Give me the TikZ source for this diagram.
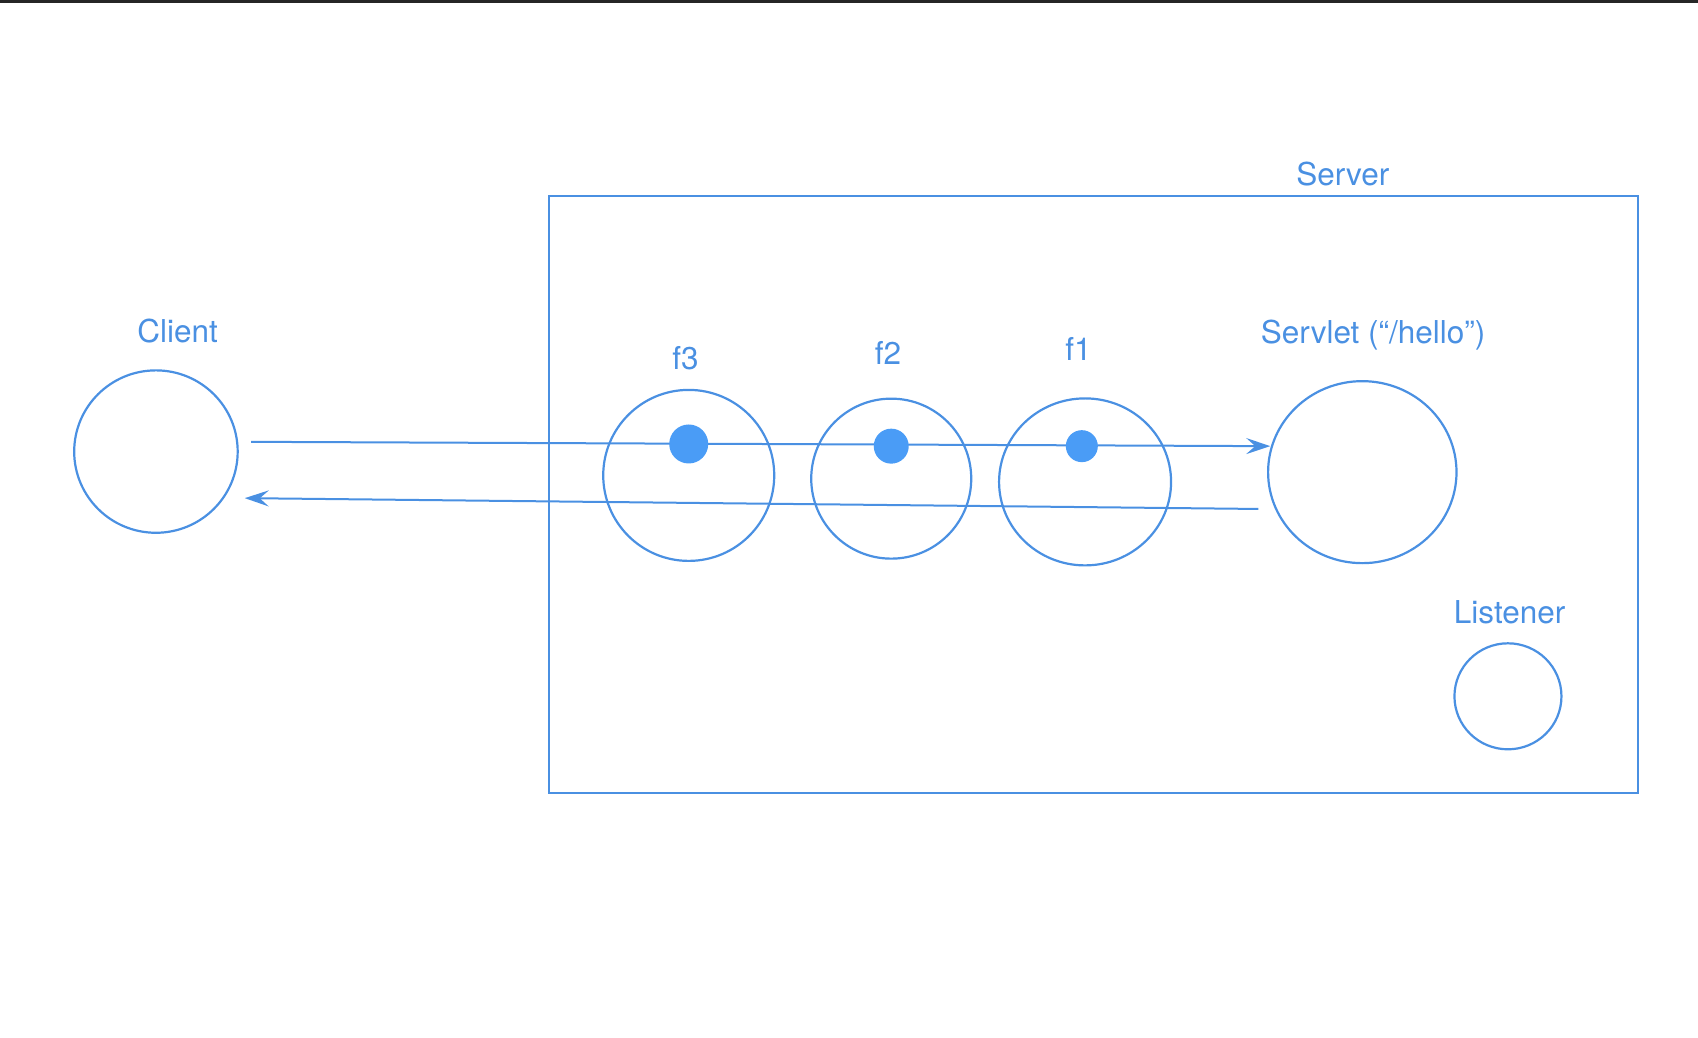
\documentclass[tikz,border=0pt]{standalone}
\usepackage{fontspec}
\setmainfont{TeX Gyre Heros}
\usetikzlibrary{arrows.meta,shapes.geometric}
\definecolor{lineblue}{HTML}{4A90E2}
\definecolor{dotblue}{HTML}{4A9CF6}
\begin{document}
\begin{tikzpicture}[x=1.0829pt,y=-1.0829pt,
  ring/.style={draw=lineblue, line width=2.2pt, ellipse, inner sep=0pt},
  lbl/.style={text=lineblue, font=\fontsize{31.5}{38}\selectfont, inner sep=0pt},
  dotnode/.style={circle, fill=dotblue, inner sep=0pt},
  flow/.style={draw=lineblue, line width=2pt, -{Stealth[length=24pt,width=16pt,inset=9pt]}}]
\useasboundingbox (0,0) rectangle (1568,958);
\fill[black!85] (0,0) rectangle (1568,2.5);

% server box
\node (server) [draw=lineblue, line width=2.4pt, minimum width=1089pt, minimum height=596.7pt, inner sep=0pt] at (1010,456.5) {};
\node (serverlbl) [lbl] at (1240,161) {Server};

% client
\node (client) [ring, minimum width=163.5pt, minimum height=162.4pt] at (144,417) {};
\node (clientlbl) [lbl] at (164,306) {Client};

% filters
\node (f3) [ring, minimum width=171pt, minimum height=171pt] at (636,439) {};
\node (f3lbl) [lbl] at (633,331) {f3};
\node (f2) [ring, minimum width=160pt, minimum height=160pt] at (823,442) {};
\node (f2lbl) [lbl] at (820,326) {f2};
\node (f1) [ring, minimum width=172pt, minimum height=167pt] at (1002,445) {};
\node (f1lbl) [lbl] at (996,322) {f1};

% servlet
\node (servlet) [ring, minimum width=188.4pt, minimum height=182pt] at (1258,436) {};
\node (servletlbl) [lbl] at (1268,309) {Servlet (“/hello”)};

% listener
\node (listener) [ring, minimum width=107pt, minimum height=106pt] at (1392.5,643) {};
\node (listenerlbl) [lbl] at (1394,565) {Listener};

% connectors
\coordinate (reqstart) at (232,408);
\coordinate (reqend) at (1173,412);
\coordinate (respstart) at (1162,470);
\coordinate (respend) at (226,460);
\draw[flow] (reqstart) -- (reqend);
\draw[flow] (respstart) -- (respend);

% dots on the request line
\node (d3) [dotnode, minimum size=39pt] at (636,410) {};
\node (d2) [dotnode, minimum size=35pt] at (823,412) {};
\node (d1) [dotnode, minimum size=32pt] at (999,412) {};
\end{tikzpicture}
\end{document}
